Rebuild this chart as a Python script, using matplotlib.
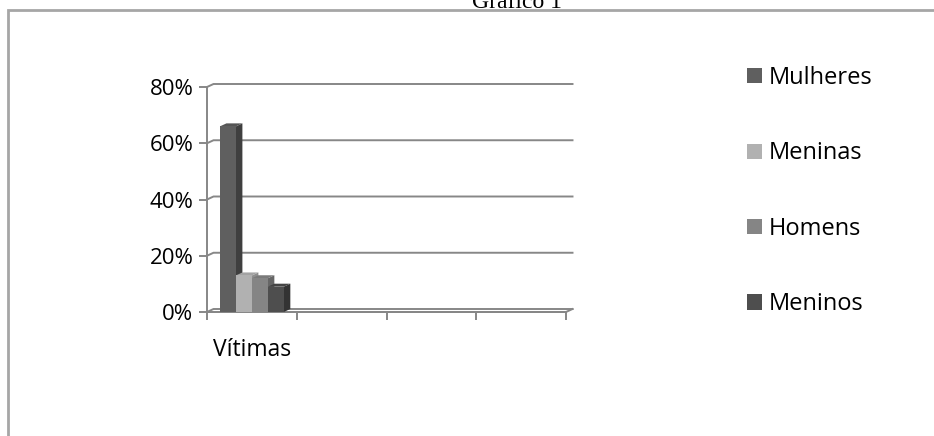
import matplotlib
matplotlib.use("Agg")
import matplotlib.pyplot as plt
from matplotlib.patches import Polygon, Rectangle, Patch

# data (percent of victims)
categories = ["Vítimas", "", "", ""]
series = ["Mulheres", "Meninas", "Homens", "Meninos"]
values = [66, 13, 12, 9]
front_colors = ["#5f5f5f", "#b1b1b1", "#858585", "#4e4e4e"]
side_colors = ["#3f3f3f", "#8e8e8e", "#666666", "#333333"]
top_colors = ["#555555", "#a3a3a3", "#7a7a7a", "#444444"]
yticks = [0, 20, 40, 60, 80]
ylabels = ["0%", "20%", "40%", "60%", "80%"]

W, H = 934, 436
fig = plt.figure(figsize=(W / 100, H / 100), dpi=100, facecolor="w")
plt.rcParams["font.family"] = ["Open Sans", "DejaVu Sans"]

# outer chart frame (runs off the right and bottom edges)
fig.patches.append(Rectangle((8 / W, -0.1), 1.2, 1.1 - 10 / H, transform=fig.transFigure,
                             fill=False, edgecolor="#a6a6a6", lw=2))
fig.text(517 / W, 1 - 8 / H, "Gráfico 1", family="Liberation Serif", fontsize=17,
         ha="center", va="baseline")

# plot area: front axis from x=207 to 566 px, y 0% at 312 px, 80% at 87 px
x0, x1 = 207, 566
y0, y80 = 312, 87
ppx = (x1 - x0) / 4.0
ppy = (y0 - y80) / 80.0
ymax = 85
ax = fig.add_axes([x0 / W, (H - y0) / H, (x1 - x0) / W, ymax * ppy / H])
ax.set_xlim(0, 4)
ax.set_ylim(0, ymax)
ax.patch.set_alpha(0)

dx = 6.5 / ppx
dy = 3 / ppy
grid = "#878787"

# back wall gridlines and floor
for v in yticks:
    ax.plot([0, dx, 4 + dx], [v, v + dy, v + dy], color=grid, lw=1.4, clip_on=False, zorder=1)
ax.plot([0, 4, 4 + dx], [0, 0, dy], color=grid, lw=1.4, clip_on=False, zorder=1)

# 3D-looking columns
bw = 0.178
for i, (v, fc, sc, tc) in enumerate(zip(values, front_colors, side_colors, top_colors)):
    xc = 0.5 + (i - 1.5) * bw
    xl, xr = xc - bw / 2, xc + bw / 2
    z = 3 + i
    ax.add_patch(Polygon([(xr, 0), (xr + dx, dy), (xr + dx, v + dy), (xr, v)],
                         closed=True, facecolor=sc, edgecolor="none", zorder=z))
    ax.add_patch(Polygon([(xl, v), (xl + dx, v + dy), (xr + dx, v + dy), (xr, v)],
                         closed=True, facecolor=tc, edgecolor="none", zorder=z))
    ax.bar(xc, v, width=bw, color=fc, edgecolor="none", zorder=z + 0.5)

for s in ["top", "right"]:
    ax.spines[s].set_visible(False)
ax.spines["left"].set_bounds(0, 80)
ax.spines["left"].set_color(grid)
ax.spines["left"].set_linewidth(1.4)
ax.spines["bottom"].set_color(grid)
ax.spines["bottom"].set_linewidth(1.4)

ax.set_yticks(yticks)
ax.set_yticklabels(ylabels)
ax.set_xticks([0, 1, 2, 3, 4])
ax.set_xticklabels([])
ax.set_xticks([0.5, 1.5, 2.5, 3.5], minor=True)
ax.set_xticklabels(categories, minor=True)
ax.tick_params(axis="both", which="major", length=5.8, width=1.4, color=grid,
               labelsize=16, pad=4)
ax.tick_params(axis="x", which="minor", length=0, labelsize=16.5, pad=19)

handles = [Patch(facecolor=c, edgecolor="none") for c in front_colors]
ax.legend(handles, series, loc="upper left", bbox_to_anchor=(747 / W, 1 - 66 / H),
          bbox_transform=fig.transFigure, frameon=False, fontsize=17,
          handlelength=0.62, handleheight=0.62, handletextpad=0.3,
          labelspacing=2.18, borderpad=0, borderaxespad=0)

fig.savefig("out.png", dpi=100, facecolor="w")
